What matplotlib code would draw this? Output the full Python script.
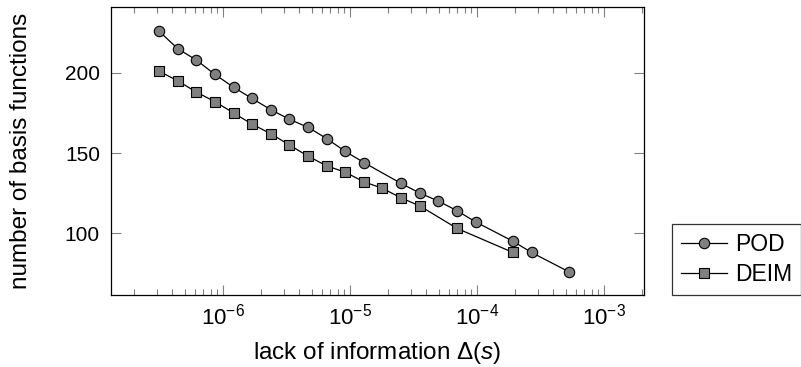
import matplotlib
matplotlib.use('Agg')
import matplotlib.pyplot as plt

plt.rcParams['font.family'] = 'Liberation Sans'
plt.rcParams['mathtext.fontset'] = 'custom'
plt.rcParams['mathtext.rm'] = 'Liberation Sans'
plt.rcParams['mathtext.it'] = 'Liberation Sans:italic'

# POD basis sizes vs lack of information
pod_x = [3.13e-7, 4.40e-7, 6.15e-7, 8.63e-7, 1.21e-6, 1.69e-6, 2.38e-6,
         3.33e-6, 4.68e-6, 6.55e-6, 9.18e-6, 1.29e-5, 2.53e-5, 3.55e-5,
         4.97e-5, 6.97e-5, 9.77e-5, 1.92e-4, 2.69e-4, 5.28e-4]
pod_y = [226, 215, 208, 199, 191, 184, 177, 171, 166, 159, 151, 144,
         131, 125, 120, 114, 107, 95, 88, 76]

# DEIM basis sizes
deim_x = [3.13e-7, 4.40e-7, 6.15e-7, 8.63e-7, 1.21e-6, 1.69e-6, 2.38e-6,
          3.33e-6, 4.68e-6, 6.55e-6, 9.18e-6, 1.29e-5, 1.80e-5, 2.53e-5,
          3.55e-5, 6.97e-5, 1.92e-4]
deim_y = [201, 195, 188, 182, 175, 168, 162, 155, 148, 142, 138, 132,
          128, 122, 117, 103, 88]

fig = plt.figure(figsize=(8.01, 3.67), dpi=100)
ax = fig.add_axes([111 / 801, 1 - 295 / 367, 533 / 801, 288 / 367])

ax.plot(pod_x, pod_y, color='black', lw=0.9, marker='o', ms=7.5,
        mfc='#808080', mec='black', mew=0.8, label='POD')
ax.plot(deim_x, deim_y, color='black', lw=0.9, marker='s', ms=7.0,
        mfc='#808080', mec='black', mew=0.8, label='DEIM')

ax.set_xscale('log')
ax.set_xlim(10 ** -6.882, 10 ** -2.685)
ax.set_ylim(61.5, 241)
ax.set_yticks([100, 150, 200])
ax.set_xticks([1e-6, 1e-5, 1e-4, 1e-3])

ax.tick_params(which='both', direction='in', top=True, right=True,
               color='#808080', labelsize=15)
ax.tick_params(which='major', length=7, width=0.8)
ax.tick_params(which='minor', length=4.5, width=0.8)
ax.tick_params(axis='x', pad=6, labelsize=16)
ax.tick_params(axis='y', pad=8)
for s in ax.spines.values():
    s.set_linewidth(0.9)

ax.set_xlabel(r'lack of information $\Delta(s)$', fontsize=17.5)
ax.set_ylabel('number of basis functions', fontsize=17.5)
ax.xaxis.set_label_coords(0.5, -0.155)
ax.yaxis.set_label_coords(-0.148, 0.5)

leg = fig.legend(loc='lower left', bbox_to_anchor=(672 / 801, 72 / 367),
                 fontsize=16.5, frameon=True, fancybox=False, edgecolor='black',
                 handlelength=2.0, handletextpad=0.35, borderpad=0.4,
                 labelspacing=0.3, borderaxespad=0)
leg.get_frame().set_linewidth(0.9)

fig.savefig('out.png', dpi=100)
